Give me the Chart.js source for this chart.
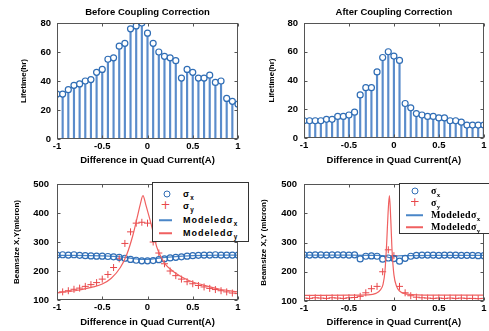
<!DOCTYPE html>
<html>
<head>
<meta charset="utf-8">
<script src="https://cdn.jsdelivr.net/npm/chart.js@4.4.1/dist/chart.umd.min.js"></script>
<style>
  body { margin: 0; background: #fff; width: 489px; height: 331px; position: relative; overflow: hidden; }
  canvas { position: absolute; }
  .lg { position: absolute; background: #fff; border: 1px solid #333; box-sizing: border-box; font-weight: bold; color: #000; }
  .lg .row { position: absolute; left: 0; height: 0; }
  .lg .tx { position: absolute; white-space: nowrap; transform: translateY(-55%); }
  .lg sub { font-size: 70%; vertical-align: -3px; line-height: 0; }
  .mk-o { position: absolute; width: 5px; height: 5px; border: 1.3px solid #2f6db5; border-radius: 50%; transform: translate(-50%, -50%); }
  .mk-p { position: absolute; color: #e8474a; font: 12px 'DejaVu Sans', sans-serif; transform: translate(-50%, -55%); }
  .mk-l { position: absolute; height: 1.5px; transform: translateY(-50%); }
  #lg1 { left: 152px; top: 182px; width: 97px; height: 60px; font-family: 'Liberation Sans', Arial, sans-serif; font-size: 9px; letter-spacing: 1px; }
  #lg2 { left: 399px; top: 183px; width: 92px; height: 51px; font-family: 'Liberation Serif', 'Times New Roman', serif; font-size: 10px; letter-spacing: 0.4px; }
</style>
</head>
<body>
<canvas id="c1" width="245" height="165" style="left:0;top:0"></canvas>
<canvas id="c2" width="244" height="165" style="left:245px;top:0"></canvas>
<canvas id="c3" width="245" height="166" style="left:0;top:165px"></canvas>
<canvas id="c4" width="244" height="166" style="left:245px;top:165px"></canvas>

<div class="lg" id="lg1">
  <div class="row" style="top:11px"><span class="mk-o" style="left:14px"></span><span class="tx" style="left:30px">σ<sub>x</sub></span></div>
  <div class="row" style="top:23px"><span class="mk-p" style="left:13px">+</span><span class="tx" style="left:30px">σ<sub>y</sub></span></div>
  <div class="row" style="top:37px"><span class="mk-l" style="left:6px;width:13px;background:#4a86c8"></span><span class="tx" style="left:30px">Modeledσ<sub>x</sub></span></div>
  <div class="row" style="top:50px"><span class="mk-l" style="left:6px;width:13px;background:#f06060"></span><span class="tx" style="left:30px">Modeledσ<sub>y</sub></span></div>
</div>
<div class="lg" id="lg2">
  <div class="row" style="top:7px"><span class="mk-o" style="left:15px"></span><span class="tx" style="left:31px">σ<sub>x</sub></span></div>
  <div class="row" style="top:19px"><span class="mk-p" style="left:15px">+</span><span class="tx" style="left:31px">σ<sub>y</sub></span></div>
  <div class="row" style="top:31px"><span class="mk-l" style="left:6px;width:17px;background:#4a86c8"></span><span class="tx" style="left:31px">Modeledσ<sub>x</sub></span></div>
  <div class="row" style="top:43px"><span class="mk-l" style="left:6px;width:17px;background:#f06060"></span><span class="tx" style="left:31px">Modeledσ<sub>y</sub></span></div>
</div>

<script>
// Quad current steps (A), shared by all measured series
const current = [-1, -0.9375, -0.875, -0.8125, -0.75, -0.6875, -0.625, -0.5625, -0.5, -0.4375, -0.375,
  -0.3125, -0.25, -0.1875, -0.125, -0.0625, 0, 0.0625, 0.125, 0.1875, 0.25, 0.3125, 0.375, 0.4375,
  0.5, 0.5625, 0.625, 0.6875, 0.75, 0.8125, 0.875, 0.9375, 1];

// Lifetime (hr)
const lifeBefore = [31, 31, 34, 37, 38, 40, 41, 46, 48, 55, 56, 64, 66, 76, 78, 80, 73, 66, 60, 57, 56, 54,
  42, 48, 46, 42, 42, 44, 39, 40, 28, 26, 24];
const lifeAfter = [12, 12, 12, 12, 13, 13, 15, 15, 16, 18, 30, 35, 35, 46, 56, 60, 57, 54, 24, 21, 17, 16,
  15, 15, 14, 14, 12, 12, 11, 9, 9, 9, 9];

// Beamsize (micron), measured
const sxBefore = [255, 256, 255, 256, 254, 253, 252, 251, 251, 250, 249, 247, 244, 240, 237, 235, 235, 236,
  239, 242, 245, 247, 249, 251, 253, 254, 255, 255, 256, 255, 255, 255, 255];
const syBefore = [125, 128, 132, 137, 141, 147, 153, 160, 172, 188, 212, 242, 295, 335, 365, 368, 365, 300,
  262, 225, 200, 184, 172, 163, 156, 150, 145, 140, 136, 132, 128, 124, 122];
const sxAfter = [258, 257, 258, 258, 257, 258, 258, 258, 257, 258, 244, 253, 254, 253, 243, 247, 245, 236,
  246, 253, 256, 257, 257, 257, 256, 257, 257, 257, 256, 256, 256, 255, 255];
const syAfter = [110, 109, 111, 110, 109, 111, 110, 109, 111, 112, 116, 128, 142, 150, 200, 275, 255, 150,
  128, 118, 113, 111, 110, 109, 110, 109, 110, 109, 110, 109, 109, 108, 109];

// Beamsize, modeled curves
const modXBeforeX = [-1, -0.5, -0.3, -0.15, -0.06, 0.05, 0.2, 0.5, 1];
const modXBeforeY = [254, 252, 249, 243, 240, 241, 247, 253, 255];
const modYBeforeX = [-1, -0.8, -0.6, -0.5, -0.4, -0.3, -0.23, -0.16, -0.11, -0.08, -0.05, -0.02, 0.02,
  0.05, 0.1, 0.15, 0.2, 0.3, 0.4, 0.5, 0.6, 0.8, 1];
const modYBeforeY = [125, 132, 145, 155, 175, 212, 256, 325, 390, 430, 460, 430, 385, 350, 285, 248, 222,
  195, 176, 162, 153, 137, 128];
const modXAfterX = [-1, -0.5, -0.2, -0.1, -0.05, 0, 0.1, 0.5, 1];
const modXAfterY = [257, 257, 256, 254, 248, 252, 255, 256, 256];
const modYAfterX = [-1, -0.5, -0.3, -0.2, -0.15, -0.12, -0.1, -0.08, -0.065, -0.05, -0.035, -0.02, 0, 0.03,
  0.06, 0.1, 0.2, 0.5, 1];
const modYAfterY = [119, 120, 121, 126, 138, 158, 200, 300, 400, 460, 380, 270, 190, 150, 135, 127, 122, 120, 120];

const pts = (xs, ys) => xs.map((x, i) => ({ x: x, y: ys[i] }));

const BLUE = '#2f6db5';
const STEM = '#5a8ccb';
const RED = '#e8474a';
const FONT = "'Liberation Sans', Arial, sans-serif";

// MATLAB style box with inward ticks on all sides
const boxPlugin = {
  id: 'box',
  afterDraw(chart) {
    const { ctx, chartArea: a, scales } = chart;
    const L = Math.round(a.left) + 0.5, R = Math.round(a.right) - 0.5;
    const T = Math.round(a.top) + 0.5, B = Math.round(a.bottom) - 0.5;
    ctx.save();
    ctx.strokeStyle = '#555';
    ctx.lineWidth = 1;
    ctx.strokeRect(L, T, R - L, B - T);
    ctx.beginPath();
    scales.x.ticks.forEach((t) => {
      const px = Math.round(scales.x.getPixelForValue(t.value)) + 0.5;
      ctx.moveTo(px, B); ctx.lineTo(px, B - 3);
      ctx.moveTo(px, T); ctx.lineTo(px, T + 3);
    });
    scales.y.ticks.forEach((t) => {
      const py = Math.round(scales.y.getPixelForValue(t.value)) + 0.5;
      ctx.moveTo(L, py); ctx.lineTo(L + 3, py);
      ctx.moveTo(R, py); ctx.lineTo(R - 3, py);
    });
    ctx.stroke();
    ctx.restore();
  }
};

function axes(p) {
  return {
    x: {
      type: 'linear', min: -1, max: 1, offset: false,
      grid: { display: false, drawTicks: false },
      border: { display: false },
      ticks: { stepSize: 0.5, padding: 2, color: '#000', font: { family: FONT, size: 9.5, weight: 'bold' },
        callback: (v) => String(v) },
      title: { display: true, text: 'Difference in Quad Current(A)', color: '#000',
        font: { family: FONT, size: 9.5, weight: 'bold', lineHeight: 1 }, padding: { top: 0, bottom: p.xTitlePad } },
      afterFit: (s) => { s.height = p.xH; }
    },
    y: {
      min: p.yMin, max: p.yMax,
      grid: { display: false, drawTicks: false },
      border: { display: false },
      ticks: { stepSize: p.yStep, padding: p.yPad, color: '#000', font: { family: FONT, size: 9.5, weight: 'bold' } },
      title: { display: true, text: p.yTitle, color: '#000',
        font: { family: FONT, size: 8, weight: 'bold', lineHeight: 1.2 }, padding: { top: p.yTitlePad, bottom: 0 } },
      afterFit: (s) => { s.width = p.yW; }
    }
  };
}

function lifetimePanel(id, values, title, p) {
  new Chart(document.getElementById(id), {
    type: 'bar',
    data: {
      datasets: [
        { type: 'bar', data: pts(current, values), backgroundColor: STEM, barThickness: 1.5, order: 2 },
        { type: 'line', data: pts(current, values), showLine: false, pointStyle: 'circle', pointRadius: 3,
          pointBorderWidth: 1.2, pointBorderColor: BLUE, pointBackgroundColor: '#fff', order: 1 }
      ]
    },
    options: {
      responsive: false, animation: false, devicePixelRatio: 1,
      layout: { padding: { left: 0, right: p.padR, top: 0, bottom: 0 } },
      plugins: {
        legend: { display: false }, tooltip: { enabled: false },
        title: { display: true, text: title, fullSize: false, color: '#000',
          font: { family: FONT, size: 9.5, weight: 'bold', lineHeight: 1.2 }, padding: { top: 6.5, bottom: 5.1 } }
      },
      scales: axes(Object.assign({ yMin: 0, yMax: 80, yStep: 20, yTitle: 'Lifetime(hr)' }, p))
    },
    plugins: [boxPlugin]
  });
}

function beamPanel(id, sx, sy, mx, my, p) {
  new Chart(document.getElementById(id), {
    type: 'line',
    data: {
      datasets: [
        { data: pts(current, sx), showLine: false, pointStyle: 'circle', pointRadius: 3, pointBorderWidth: 1.2,
          pointBorderColor: BLUE, pointBackgroundColor: 'rgba(255,255,255,0)', order: 2 },
        { data: pts(current, sy), showLine: false, pointStyle: 'cross', pointRadius: 3.5, pointBorderWidth: 1,
          pointBorderColor: RED, order: 3 },
        { data: pts(mx[0], mx[1]), borderColor: '#4a86c8', borderWidth: 1.2, pointRadius: 0,
          cubicInterpolationMode: 'monotone', order: 4 },
        { data: pts(my[0], my[1]), borderColor: '#f06060', borderWidth: 1.2, pointRadius: 0,
          cubicInterpolationMode: 'monotone', order: 1 }
      ]
    },
    options: {
      responsive: false, animation: false, devicePixelRatio: 1,
      layout: { padding: { left: 0, right: p.padR, top: p.padT, bottom: 0 } },
      plugins: { legend: { display: false }, tooltip: { enabled: false } },
      scales: axes(Object.assign({ yMin: 100, yMax: 500, yStep: 100 }, p))
    },
    plugins: [boxPlugin]
  });
}

lifetimePanel('c1', lifeBefore, 'Before Coupling Correction',
  { padR: 7, xH: 26, xTitlePad: 0, yW: 57, yPad: 6, yTitlePad: 19 });
lifetimePanel('c2', lifeAfter, 'After Coupling Correction',
  { padR: 4, xH: 27, xTitlePad: 0, yW: 59, yPad: 6, yTitlePad: 22 });
beamPanel('c3', sxBefore, syBefore, [modXBeforeX, modXBeforeY], [modYBeforeX, modYBeforeY],
  { padR: 7, padT: 19, xH: 31, xTitlePad: 3.5, yW: 57, yPad: 8, yTitle: 'Beamsize X,Y(micron)', yTitlePad: 12 });
beamPanel('c4', sxAfter, syAfter, [modXAfterX, modXAfterY], [modYAfterX, modYAfterY],
  { padR: 3, padT: 19, xH: 30, xTitlePad: 3.5, yW: 59, yPad: 7, yTitle: 'Beamsize X,Y (micron)', yTitlePad: 14 });
</script>
</body>
</html>
